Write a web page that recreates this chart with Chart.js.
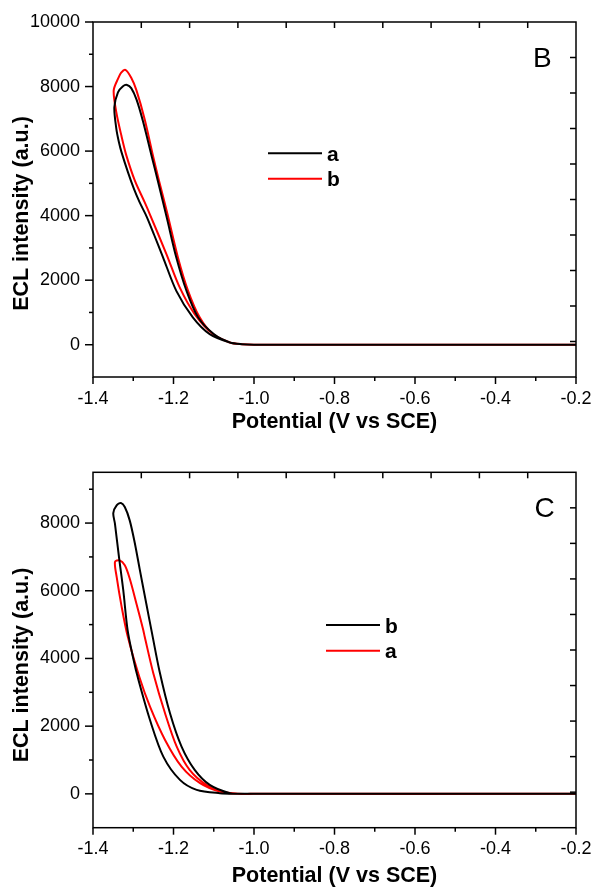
<!DOCTYPE html>
<html>
<head>
<meta charset="utf-8">
<script src="https://cdn.jsdelivr.net/npm/chart.js@4.4.1/dist/chart.umd.min.js"></script>
<style>
  html, body { margin: 0; padding: 0; background: #fff; }
  canvas { display: block; }
</style>
</head>
<body>
<canvas id="panelB" width="594" height="440"></canvas>
<canvas id="panelC" width="594" height="447"></canvas>
<script>
// potential axis, V vs SCE
const potTicks = [-1.4, -1.2, -1.0, -0.8, -0.6, -0.4, -0.2];
const potMinor = [-1.3, -1.1, -0.9, -0.7, -0.5, -0.3];

// ECL intensity axis
const eclTicksB = [0, 2000, 4000, 6000, 8000, 10000];
const eclMinorB = [1000, 3000, 5000, 7000, 9000];
const eclTicksC = [0, 2000, 4000, 6000, 8000];
const eclMinorC = [1000, 3000, 5000, 7000, 9000];

// the mirrored top / right axes in the original use their own spacing
const topTicks = [1, 2, 3, 4, 5, 6, 7, 8, 9];
const rightTicks = [0, 1, 2, 3, 4, 5, 6, 7, 8];

// panel B, curve a (black)
const bAx = [-0.2, -1.0, -1.03, -1.06, -1.10, -1.139, -1.168, -1.193, -1.216, -1.239, -1.255, -1.276, -1.292, -1.305, -1.3155, -1.3255, -1.338, -1.347,
  -1.342, -1.336, -1.329, -1.313, -1.298, -1.284, -1.267, -1.248, -1.226, -1.193, -1.152, -1.11, -1.06, -1.03, -1.0, -0.2];
const bAy = [0, 0, 15, 70, 330, 850, 1680, 2700, 3900, 5080, 5880, 6930, 7600, 7950, 8050, 8010, 7820, 7360,
  6690, 6300, 5960, 5340, 4820, 4410, 3980, 3400, 2710, 1670, 850, 330, 70, 15, 0, 0];

// panel B, curve b (red)
const bBx = [-0.2, -1.0, -1.03, -1.06, -1.102, -1.135, -1.164, -1.189, -1.215, -1.236, -1.251, -1.2715, -1.292, -1.305, -1.3195, -1.330, -1.338, -1.3486,
  -1.342, -1.3295, -1.317, -1.296, -1.2715, -1.259, -1.2176, -1.1846, -1.1474, -1.102, -1.06, -1.03, -1.0, -0.2];
const bBy = [0, 0, 15, 70, 330, 850, 1680, 2706, 4050, 5084, 5860, 6980, 7880, 8270, 8516, 8430, 8240, 7874,
  7200, 6480, 5860, 5084, 4410, 4050, 2810, 1776, 950, 330, 70, 15, 0, 0];

// panel C, curve b (black)
const cBx = [-0.2, -1.0, -1.03, -1.06, -1.11, -1.1474, -1.18, -1.2087, -1.2343, -1.2533, -1.2673, -1.284, -1.2963, -1.3088, -1.321, -1.3306, -1.3413, -1.3496,
  -1.3455, -1.3355, -1.3248, -1.314, -1.300, -1.287, -1.2584, -1.2253, -1.184, -1.1424, -1.085, -1.04, -1.0, -0.2];
const cBy = [0, 0, 5, 20, 265, 708, 1395, 2380, 3600, 4740, 5600, 6640, 7420, 8080, 8473, 8590, 8523, 8296,
  7983, 6998, 6016, 4836, 4000, 3362, 2182, 1100, 413, 118, 20, 3, 0, 0];

// panel C, curve a (red)
const cAx = [-0.2, -1.0, -1.07, -1.118, -1.16, -1.192, -1.221, -1.25, -1.2715, -1.275, -1.2922, -1.3088, -1.321, -1.3346, -1.3454,
  -1.3412, -1.3288, -1.3135, -1.285, -1.2584, -1.221, -1.18, -1.134, -1.085, -1.04, -1.0, -0.2];
const cAy = [0, 0, 30, 265, 708, 1395, 2380, 3559, 4639, 4836, 5624, 6361, 6753, 6900, 6851,
  6408, 5524, 4639, 3460, 2575, 1592, 805, 316, 68, 5, 0, 0];

const pts = (xs, ys) => xs.map((x, i) => ({ x, y: ys[i] }));
const FONT = '"Liberation Sans", Arial, sans-serif';

// box, tick marks, legend, panel letter and axis titles
const framePlugin = {
  id: 'frame',
  afterDraw(chart, args, o) {
    const { ctx, chartArea: a } = chart;
    const { x, y, x2, y2 } = chart.scales;
    const seg = (x1, y1, x3, y3) => { ctx.beginPath(); ctx.moveTo(x1, y1); ctx.lineTo(x3, y3); ctx.stroke(); };
    ctx.save();
    ctx.strokeStyle = '#000';
    ctx.lineWidth = 1.5;
    ctx.strokeRect(a.left, a.top, a.right - a.left, a.bottom - a.top);
    potTicks.forEach(v => { const p = x.getPixelForValue(v); seg(p, a.bottom, p, a.bottom + 7); });
    potMinor.forEach(v => { const p = x.getPixelForValue(v); seg(p, a.bottom, p, a.bottom + 4); });
    o.yMajor.forEach(v => { const p = y.getPixelForValue(v); seg(a.left - 8, p, a.left, p); });
    o.yMinor.forEach(v => { const p = y.getPixelForValue(v); seg(a.left - 4, p, a.left, p); });
    topTicks.forEach(v => { const p = x2.getPixelForValue(v); seg(p, a.top, p, a.top + 6); });
    rightTicks.forEach(v => { const p = y2.getPixelForValue(v); seg(a.right - 6, p, a.right, p); });

    ctx.fillStyle = '#000';
    ctx.textAlign = 'left';
    ctx.textBaseline = 'alphabetic';
    ctx.font = '28px ' + FONT;
    ctx.fillText(o.letter, o.letterX, o.letterY);

    ctx.font = 'bold 21px ' + FONT;
    chart.data.datasets.forEach((ds, i) => {
      const ly = o.legendY + i * o.legendGap;
      ctx.strokeStyle = ds.borderColor;
      ctx.lineWidth = 2;
      seg(o.legendX, ly, o.legendX + 54, ly);
      ctx.fillText(ds.label, o.legendX + 59, ly + 7.5);
    });

    ctx.font = 'bold 21.5px ' + FONT;
    ctx.textAlign = 'center';
    ctx.textBaseline = 'middle';
    ctx.fillText('Potential (V vs SCE)', (a.left + a.right) / 2, o.xTitleY);
    ctx.translate(o.yTitleX, o.yTitleY);
    ctx.rotate(-Math.PI / 2);
    ctx.fillText('ECL intensity (a.u.)', 0, 0);
    ctx.restore();
  }
};

function makeChart(id, series, yMin, yMax, yTicks, frame, padTop, xHeight) {
  return new Chart(document.getElementById(id), {
    type: 'scatter',
    data: {
      datasets: series.map(s => ({
        label: s.label,
        data: pts(s.xs, s.ys),
        borderColor: s.color,
        backgroundColor: s.color,
        borderWidth: 2,
        showLine: true,
        pointRadius: 0,
        tension: 0.3
      }))
    },
    options: {
      responsive: false,
      animation: false,
      layout: { padding: { top: padTop, right: 18, left: 0, bottom: 0 } },
      plugins: { legend: { display: false }, tooltip: { enabled: false }, frame: frame },
      scales: {
        x: {
          type: 'linear', position: 'bottom', min: -1.4, max: -0.2,
          grid: { display: false, drawTicks: false }, border: { display: false },
          afterBuildTicks: s => { s.ticks = potTicks.map(v => ({ value: v })); },
          afterFit: s => { s.height = xHeight; s.paddingLeft = 0; s.paddingRight = 0; },
          ticks: { padding: 11, color: '#000', font: { family: FONT, size: 18 }, maxRotation: 0,
            callback: v => v.toFixed(1) }
        },
        y: {
          type: 'linear', position: 'left', min: yMin, max: yMax,
          grid: { display: false, drawTicks: false }, border: { display: false },
          afterBuildTicks: s => { s.ticks = yTicks.map(v => ({ value: v })); },
          afterFit: s => { s.width = 93; s.paddingTop = 0; s.paddingBottom = 0; },
          ticks: { padding: 13, color: '#000', font: { family: FONT, size: 18 }, callback: v => String(v) }
        },
        x2: { type: 'linear', position: 'top', min: 0, max: 10, display: false },
        y2: { type: 'linear', position: 'right', min: -1, max: 9, display: false }
      }
    },
    plugins: [framePlugin]
  });
}

makeChart('panelB', [
  { label: 'a', xs: bAx, ys: bAy, color: '#000000' },
  { label: 'b', xs: bBx, ys: bBy, color: '#ff0000' }
], -1000, 10000, eclTicksB, {
  yMajor: eclTicksB, yMinor: eclMinorB, letter: 'B', letterX: 533, letterY: 66.5,
  legendX: 268, legendY: 153.3, legendGap: 25.5, xTitleY: 422.5, yTitleX: 22, yTitleY: 213.5
}, 22, 63);

makeChart('panelC', [
  { label: 'b', xs: cBx, ys: cBy, color: '#000000' },
  { label: 'a', xs: cAx, ys: cAy, color: '#ff0000' }
], -1000, 9500, eclTicksC, {
  yMajor: eclTicksC, yMinor: eclMinorC, letter: 'C', letterX: 534.5, letterY: 77.3,
  legendX: 326, legendY: 185, legendGap: 25.7, xTitleY: 435.8, yTitleX: 21.7, yTitleY: 225
}, 32.3, 59.3);
</script>
</body>
</html>
